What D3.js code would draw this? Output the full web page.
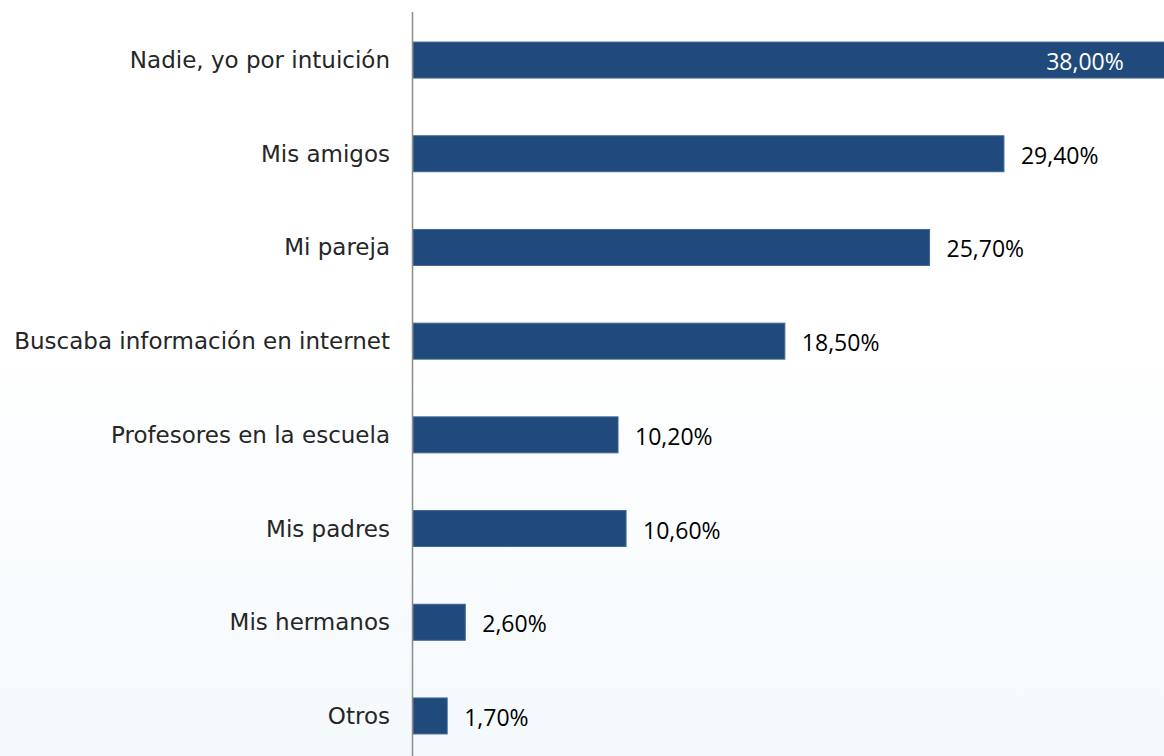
<!DOCTYPE html>
<html><head><meta charset="utf-8">
<script src="https://cdn.jsdelivr.net/npm/d3@7"></script>
<style>html,body{margin:0;padding:0;overflow:hidden;background:#fff}</style>
</head><body>
<svg id="c" width="1164" height="756"></svg>
<script>
const categories = ["Nadie, yo por intuición","Mis amigos","Mi pareja","Buscaba información en internet","Profesores en la escuela","Mis padres","Mis hermanos","Otros"];
const values = [38.0, 29.4, 25.7, 18.5, 10.2, 10.6, 2.6, 1.7];
const valueLabels = ["38,00%","29,40%","25,70%","18,50%","10,20%","10,60%","2,60%","1,70%"];

const svg = d3.select("#c");
const defs = svg.append("defs");
const g = defs.append("linearGradient").attr("id","bg").attr("x1",0).attr("y1",0).attr("x2",0).attr("y2",1);
g.append("stop").attr("offset","0%").attr("stop-color","#ffffff");
g.append("stop").attr("offset","45%").attr("stop-color","#ffffff");
g.append("stop").attr("offset","100%").attr("stop-color","#f4f9fc");
svg.append("rect").attr("width",1164).attr("height",756).attr("fill","url(#bg)");

const x = d3.scaleLinear().domain([0, 38]).range([413, 413 + 38*20.1]);
const y = d3.scaleBand().domain(categories).range([13.2, 762.8]).paddingInner(0.616).paddingOuter(0.308);

svg.append("g").selectAll("rect").data(values).join("rect")
  .attr("x", x(0))
  .attr("y", (d,i)=>y(categories[i]))
  .attr("width", d=>x(d)-x(0))
  .attr("height", y.bandwidth())
  .attr("fill","#214a7c")
  .attr("stroke","#3f6698").attr("stroke-width",1);

// axis
svg.append("line").attr("x1",412.5).attr("x2",412.5).attr("y1",12).attr("y2",756)
  .attr("stroke","#8c8c8c").attr("stroke-width",1.5);

svg.append("g").selectAll("text").data(categories).join("text")
  .attr("x", 390).attr("y", d=>y(d)+y.bandwidth()/2)
  .attr("text-anchor","end").attr("dominant-baseline","central")
  .attr("font-family","'DejaVu Sans', sans-serif").attr("font-size",23)
  .attr("fill","#262626").text(d=>d);

svg.append("g").selectAll("text").data(values).join("text")
  .attr("x", (d,i)=> i===0 ? x(d)-53 : x(d)+17)
  .attr("y", (d,i)=>y(categories[i])+y.bandwidth()/2+1)
  .attr("text-anchor",(d,i)=> i===0 ? "end" : "start")
  .attr("dominant-baseline","central")
  .attr("font-family","'Open Sans', sans-serif").attr("font-size",23)
  .attr("fill",(d,i)=> i===0 ? "#ffffff" : "#000000")
  .text((d,i)=>valueLabels[i]);
</script>
</body></html>
